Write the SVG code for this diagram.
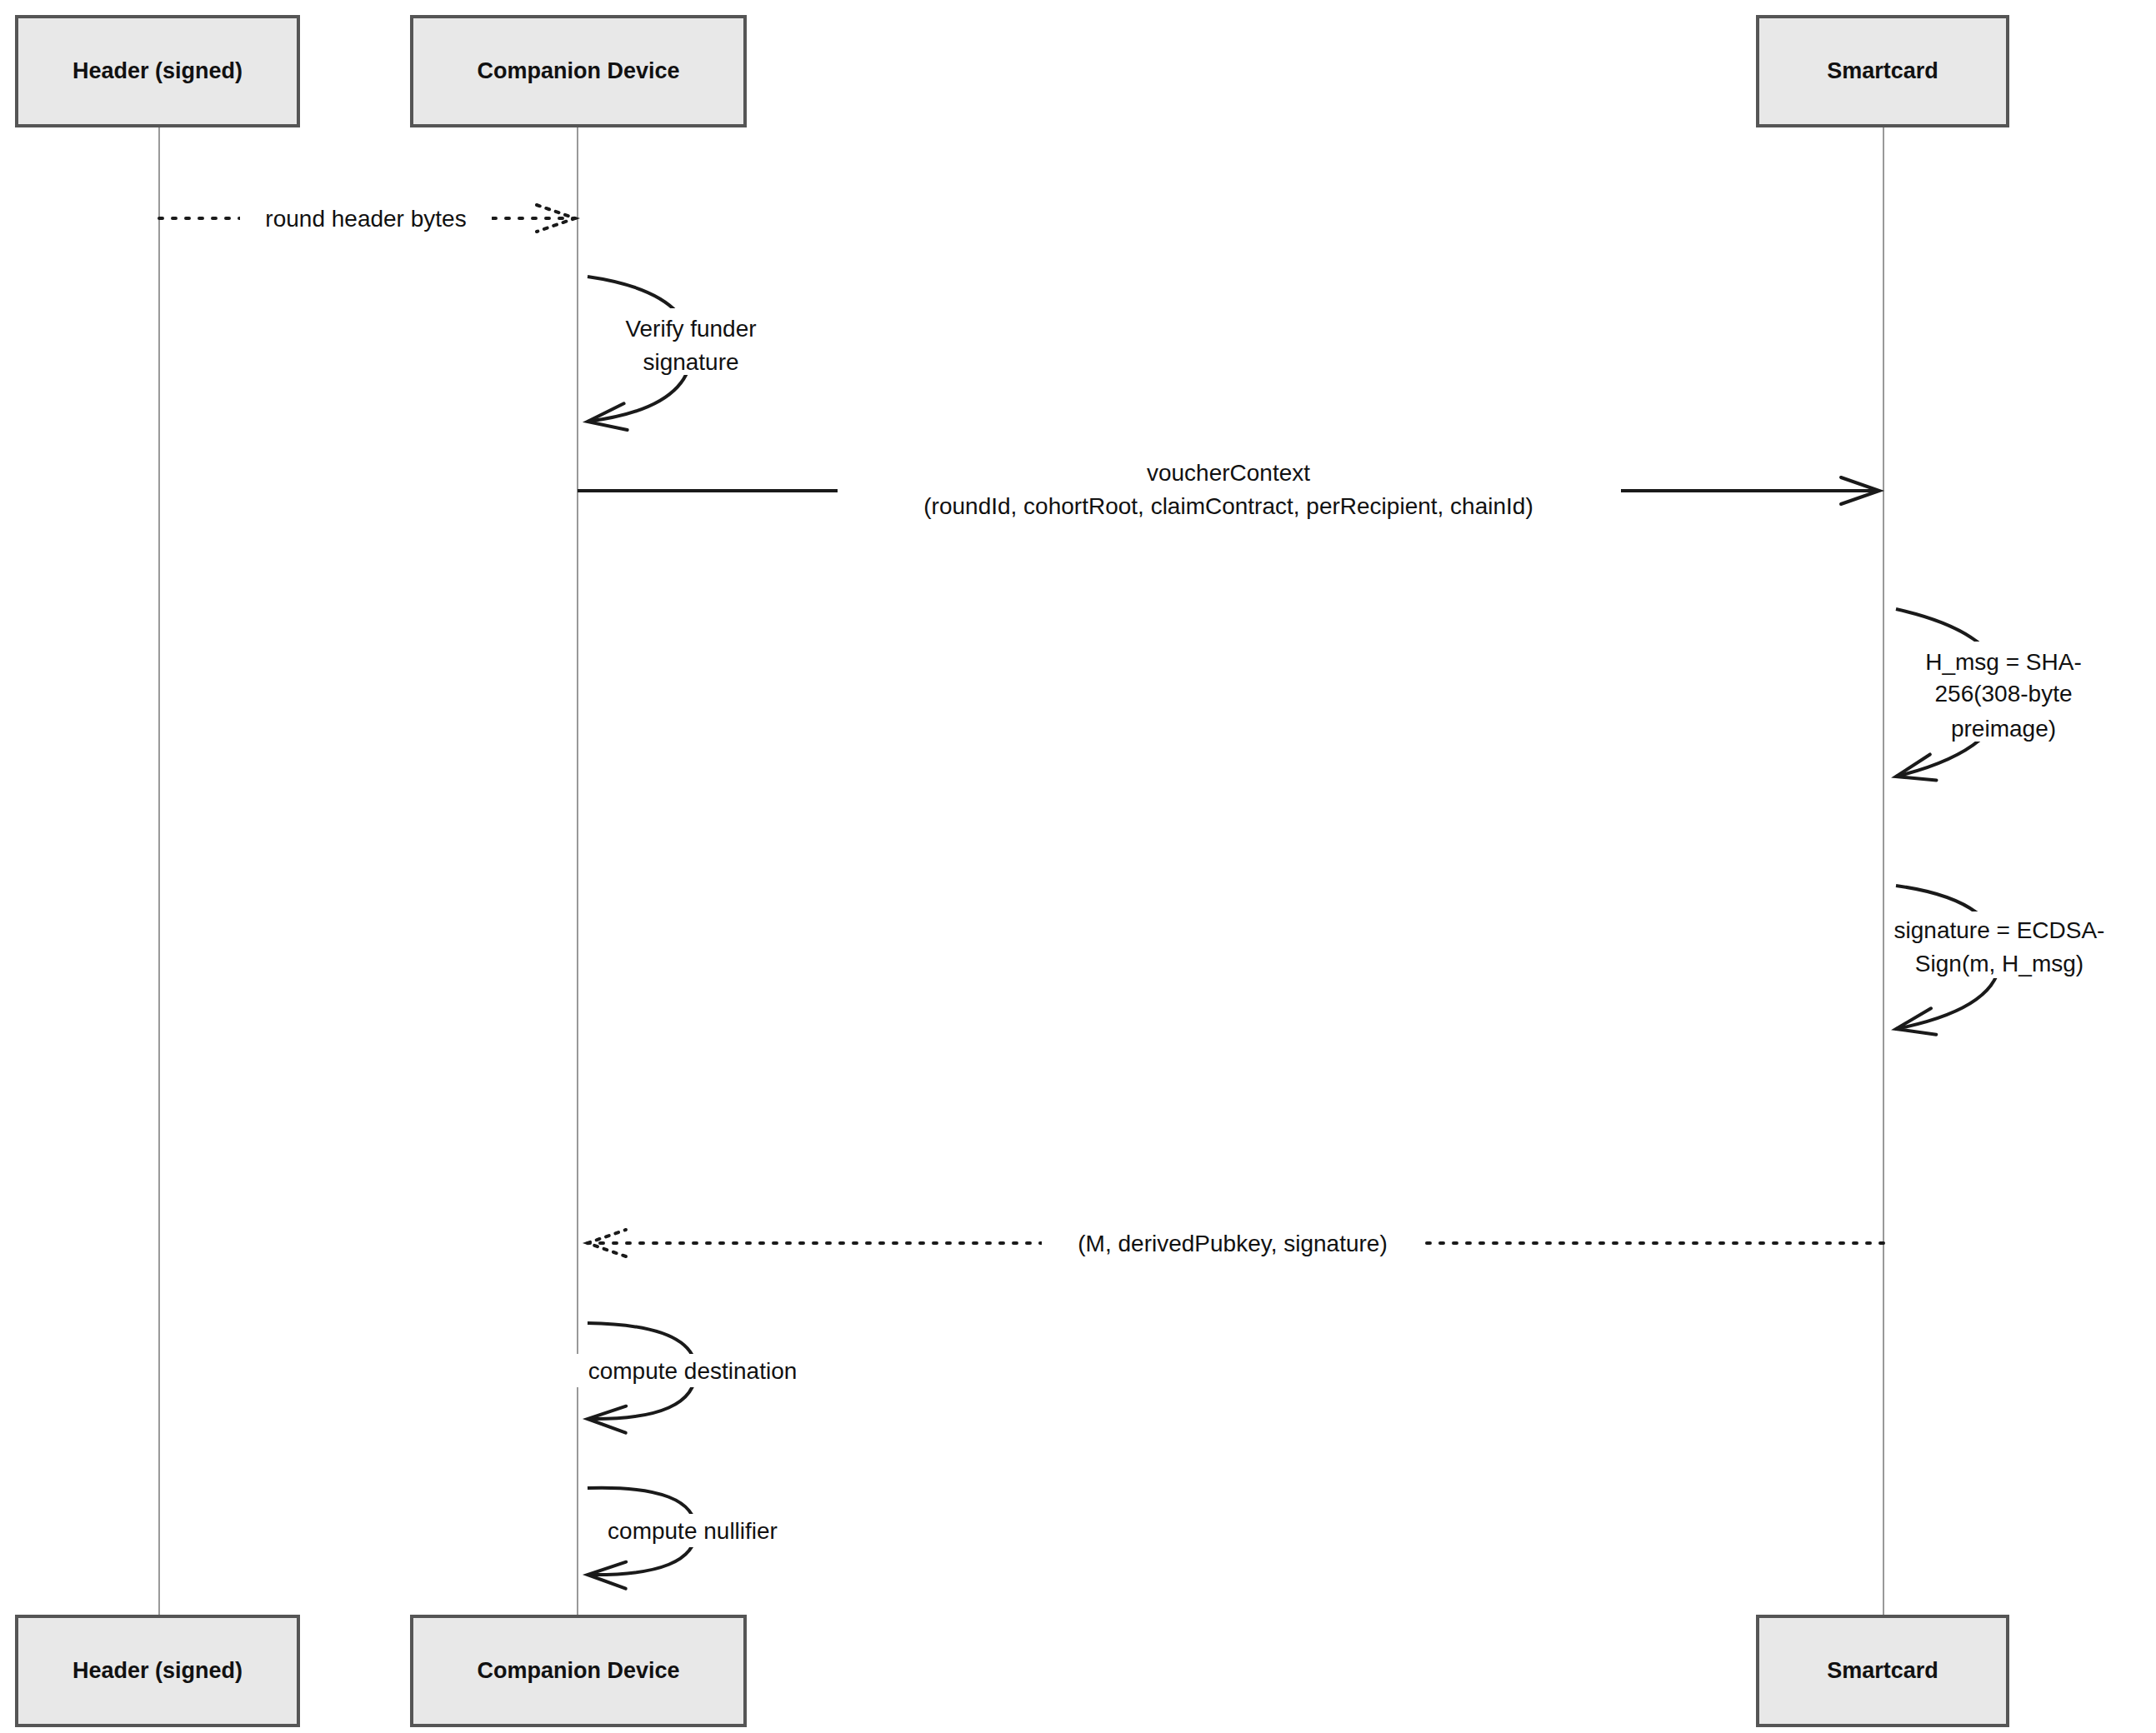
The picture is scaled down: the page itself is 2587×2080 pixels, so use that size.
<svg xmlns="http://www.w3.org/2000/svg" width="2587" height="2080" viewBox="0 0 2587 2080">
<style>
.box{fill:#e8e8e8;stroke:#555;stroke-width:4}
.life{stroke:#999;stroke-width:2;fill:none}
.t{font-family:"Liberation Sans",Arial,sans-serif;font-size:28px;fill:#111;text-anchor:middle}
.bt{font-weight:bold;font-size:27px}
.m{stroke:#1a1a1a;stroke-width:4;fill:none;marker-end:url(#ah)}
.d{stroke:#1a1a1a;stroke-width:4;fill:none;stroke-dasharray:4 12;stroke-linecap:round}
.bg{fill:#fff}
</style>
<defs>
<marker id="ah" markerUnits="userSpaceOnUse" markerWidth="60" markerHeight="40" refX="50" refY="20" orient="auto">
<polyline points="4,4 50,20 4,36" fill="none" stroke="#1a1a1a" stroke-width="4" stroke-linecap="round"/>
</marker>
<marker id="ahd" markerUnits="userSpaceOnUse" markerWidth="60" markerHeight="40" refX="50" refY="20" orient="auto">
<polyline points="4,4 50,20 4,36" fill="none" stroke="#1a1a1a" stroke-width="4" stroke-dasharray="4 8" stroke-linecap="round"/>
</marker>
</defs>
<g id="lifelines">
<line class="life" x1="191" y1="151" x2="191" y2="1940"/>
<line class="life" x1="693" y1="151" x2="693" y2="1940"/>
<line class="life" x1="2260" y1="151" x2="2260" y2="1940"/>
</g>
<g id="header-top"><rect class="box" x="20" y="20" width="338" height="131"/><text class="t bt" x="189" y="94">Header (signed)</text></g>
<g id="companion-top"><rect class="box" x="494" y="20" width="400" height="131"/><text class="t bt" x="694" y="94">Companion Device</text></g>
<g id="smartcard-top"><rect class="box" x="2109" y="20" width="300" height="131"/><text class="t bt" x="2259" y="94">Smartcard</text></g>
<g id="header-bottom"><rect class="box" x="20" y="1940" width="338" height="131"/><text class="t bt" x="189" y="2014">Header (signed)</text></g>
<g id="companion-bottom"><rect class="box" x="494" y="1940" width="400" height="131"/><text class="t bt" x="694" y="2014">Companion Device</text></g>
<g id="smartcard-bottom"><rect class="box" x="2109" y="1940" width="300" height="131"/><text class="t bt" x="2259" y="2014">Smartcard</text></g>
<g id="connectors">
<line class="d" x1="191" y1="262" x2="690" y2="262" marker-end="url(#ahd)"/>
<rect class="bg" x="288" y="240" width="302" height="40"/>
<text class="t" x="439" y="272">round header bytes</text>

<path class="m" d="M705,332 Q830,350 830,420 Q830,490 705,506"/>
<rect class="bg" x="720" y="370" width="220" height="80"/>
<text class="t" x="829" y="404">Verify funder</text>
<text class="t" x="829" y="444">signature</text>

<line class="m" x1="693" y1="589" x2="2255" y2="589"/>
<rect class="bg" x="1005" y="585" width="940" height="42"/>
<text class="t" x="1474" y="577">voucherContext</text>
<text class="t" x="1474" y="617">(roundId, cohortRoot, claimContract, perRecipient, chainId)</text>

<path class="m" d="M2275,731 Q2405,760 2405,830 Q2405,900 2275,932"/>
<rect class="bg" x="2295" y="770" width="210" height="120"/>
<text class="t" x="2404" y="804">H_msg = SHA-</text>
<text class="t" x="2404" y="842">256(308-byte</text>
<text class="t" x="2404" y="884">preimage)</text>

<path class="m" d="M2275,1063 Q2400,1080 2400,1150 Q2400,1210 2275,1235"/>
<rect class="bg" x="2270" y="1094" width="270" height="80"/>
<text class="t" x="2399" y="1126">signature = ECDSA-</text>
<text class="t" x="2399" y="1166">Sign(m, H_msg)</text>

<line class="d" x1="2260" y1="1492" x2="705" y2="1492" marker-end="url(#ahd)"/>
<rect class="bg" x="1250" y="1472" width="460" height="40"/>
<text class="t" x="1479" y="1502">(M, derivedPubkey, signature)</text>

<path class="m" d="M705,1588 Q835,1590 835,1645 Q835,1705 705,1703"/>
<rect class="bg" x="672" y="1625" width="320" height="40"/>
<text class="t" x="831" y="1655">compute destination</text>

<path class="m" d="M705,1786 Q835,1782 835,1837 Q835,1892 705,1890"/>
<rect class="bg" x="705" y="1817" width="255" height="40"/>
<text class="t" x="831" y="1847">compute nullifier</text>
</g>
</svg>
